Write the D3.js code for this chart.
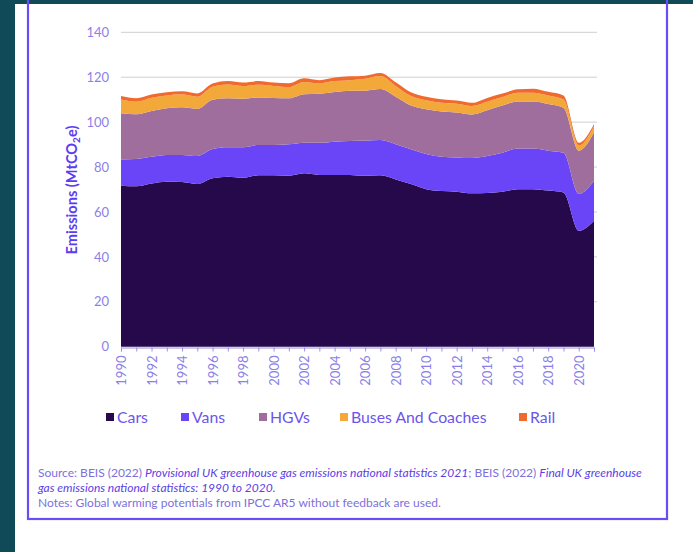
<!DOCTYPE html>
<html>
<head>
<meta charset="utf-8">
<script src="https://cdn.jsdelivr.net/npm/d3@7"></script>
<style>
  html, body { margin: 0; padding: 0; background: #ffffff; }
  svg { display: block; }
  text { font-family: "Lato", "Noto Sans", sans-serif; }
</style>
</head>
<body>
<svg id="chart" width="693" height="552"></svg>
<script>
// Road and rail transport emissions by mode, UK (MtCO2e)
const years = d3.range(1990, 2022);
const cars  = [71.7, 71.4, 72.7, 73.5, 73.3, 72.4, 75.0, 75.7, 75.2, 76.3, 76.3, 76.1, 77.2, 76.5, 76.5, 76.5, 76.1, 76.3, 74.5, 72.4, 70.1, 69.3, 69.0, 68.3, 68.4, 69.0, 70.1, 70.1, 69.5, 68.7, 51.6, 56.1];
const vans  = [11.7, 12.2, 11.9, 11.9, 12.1, 12.5, 13.0, 13.1, 13.6, 13.5, 13.5, 14.0, 13.6, 14.3, 14.8, 15.1, 15.6, 15.7, 15.7, 15.5, 15.7, 15.3, 15.3, 15.7, 16.5, 17.4, 18.2, 18.2, 17.8, 17.7, 16.4, 17.8];
const hgvs  = [20.6, 19.9, 20.4, 20.8, 21.2, 21.0, 22.0, 21.8, 21.6, 21.2, 20.9, 20.5, 21.6, 21.8, 22.1, 22.4, 22.3, 22.7, 21.1, 19.5, 19.9, 20.1, 20.0, 19.4, 20.4, 21.0, 20.9, 20.9, 20.8, 20.0, 19.3, 21.6];
const buses = [6.1, 5.6, 5.9, 5.7, 5.8, 5.4, 5.8, 6.2, 5.7, 5.6, 5.4, 5.0, 5.5, 4.7, 4.9, 4.7, 5.3, 5.8, 4.8, 4.2, 4.0, 3.9, 3.9, 3.8, 3.8, 3.8, 3.9, 3.9, 3.8, 3.7, 2.3, 2.6];
const rail  = [1.5, 1.5, 1.4, 1.4, 1.3, 1.5, 1.4, 1.5, 1.5, 1.7, 1.5, 1.7, 1.6, 1.4, 1.6, 1.7, 1.4, 1.4, 1.7, 1.7, 1.6, 1.6, 1.4, 1.4, 1.7, 1.5, 1.5, 1.8, 1.6, 1.8, 1.2, 1.0];

const seriesNames = ["Cars", "Vans", "HGVs", "Buses And Coaches", "Rail"];
const seriesColors = ["#26094a", "#6a45f7", "#9f6e9d", "#f3a83a", "#ef6a2c"];
const yTicks = [0, 20, 40, 60, 80, 100, 120, 140];
const xLabelYears = d3.range(1990, 2021, 2);

const table = years.map((yr, i) => ({
  year: yr,
  "Cars": cars[i],
  "Vans": vans[i],
  "HGVs": hgvs[i],
  "Buses And Coaches": buses[i],
  "Rail": rail[i]
}));

const svg = d3.select("#chart");
const W = 693, H = 552;

// page background and card
svg.append("rect").attr("x", 0).attr("y", 0).attr("width", W).attr("height", H).attr("fill", "#104a58");
svg.append("rect").attr("x", 15).attr("y", 4).attr("width", W - 15).attr("height", H - 4).attr("fill", "#ffffff");
svg.append("rect").attr("x", 28).attr("y", -6).attr("width", 639).attr("height", 525)
  .attr("fill", "none").attr("stroke", "#6c4cf6").attr("stroke-width", 2.2);

const x = d3.scaleLinear().domain([1990, 2021]).range([121, 594]);
const y = d3.scaleLinear().domain([0, 140]).range([346.7, 32.3]);

// horizontal grid lines
svg.append("g").selectAll("line").data(yTicks.filter(d => d > 0)).join("line")
  .attr("x1", 121).attr("x2", 597)
  .attr("y1", d => y(d)).attr("y2", d => y(d))
  .attr("stroke", "#cfcfd4").attr("stroke-width", 1);

// stacked areas
const stack = d3.stack().keys(seriesNames);
const layers = stack(table);
const area = d3.area()
  .x(d => x(d.data.year))
  .y0(d => y(d[0]))
  .y1(d => y(d[1]))
  .curve(d3.curveMonotoneX);

svg.append("g").selectAll("path").data(layers).join("path")
  .attr("d", area)
  .attr("fill", (d, i) => seriesColors[i]);

// y axis labels
const yAxis = d3.axisLeft(y).tickValues(yTicks).tickSize(0).tickPadding(0);
const gy = svg.append("g").attr("transform", "translate(109,0)").call(yAxis);
gy.select(".domain").remove();
gy.selectAll("text").attr("fill", "#8b7fe8").style("font-size", "13px").style("font-family", "Lato, sans-serif");

// x axis with yearly ticks, labels on even years
const xAxis = d3.axisBottom(x)
  .tickValues(years)
  .tickSize(4)
  .tickFormat(d => xLabelYears.includes(d) ? String(d) : "");
const gx = svg.append("g").attr("transform", "translate(0,347.5)").call(xAxis);
gx.select(".domain").attr("stroke", "#9a8fe6").attr("stroke-width", 1);
gx.selectAll(".tick line").attr("stroke", "#9a8fe6");
gx.selectAll("text")
  .attr("fill", "#8b7fe8")
  .style("font-size", "13px")
  .style("font-family", "Lato, sans-serif")
  .attr("transform", "rotate(-90)")
  .attr("text-anchor", "end")
  .attr("x", -8)
  .attr("y", 0)
  .attr("dy", "0.35em");

// y axis title
const title = svg.append("text")
  .attr("transform", "translate(77,190) rotate(-90)")
  .attr("text-anchor", "middle")
  .attr("fill", "#5b3cf2")
  .style("font-size", "14.6px")
  .style("font-weight", "700");
title.append("tspan").text("Emissions (MtCO");
title.append("tspan").text("2").style("font-size", "10px").attr("dy", "3");
title.append("tspan").text("e)").attr("dy", "-3");

// legend
const legendX = [106, 181, 259, 340, 519];
const legend = svg.append("g").selectAll("g").data(seriesNames).join("g")
  .attr("transform", (d, i) => `translate(${legendX[i]},417)`);
legend.append("rect").attr("x", 0).attr("y", -4).attr("width", 8).attr("height", 8)
  .attr("fill", (d, i) => seriesColors[i]);
legend.append("text").attr("x", 11).attr("y", 0).attr("dy", "0.35em")
  .attr("fill", "#6b55ea").style("font-size", "15.8px")
  .text(d => d);

// source and notes
const noteColor = "#7d70dc";
const emph = "#5b3ee6";
const fs = "12px";
const l1 = svg.append("text").attr("x", 38).attr("y", 477).attr("fill", noteColor).style("font-size", fs);
l1.append("tspan").text("Source: BEIS (2022) ");
l1.append("tspan").text("Provisional UK greenhouse gas emissions national statistics 2021").attr("fill", emph).style("font-style", "italic");
l1.append("tspan").text("; BEIS (2022) ");
l1.append("tspan").text("Final UK greenhouse").attr("fill", emph).style("font-style", "italic");
svg.append("text").attr("x", 38).attr("y", 492).attr("fill", emph).style("font-size", fs)
  .style("font-style", "italic")
  .text("gas emissions national statistics: 1990 to 2020.");
svg.append("text").attr("x", 38).attr("y", 507).attr("fill", noteColor).style("font-size", fs)
  .text("Notes: Global warming potentials from IPCC AR5 without feedback are used.");
</script>
</body>
</html>
